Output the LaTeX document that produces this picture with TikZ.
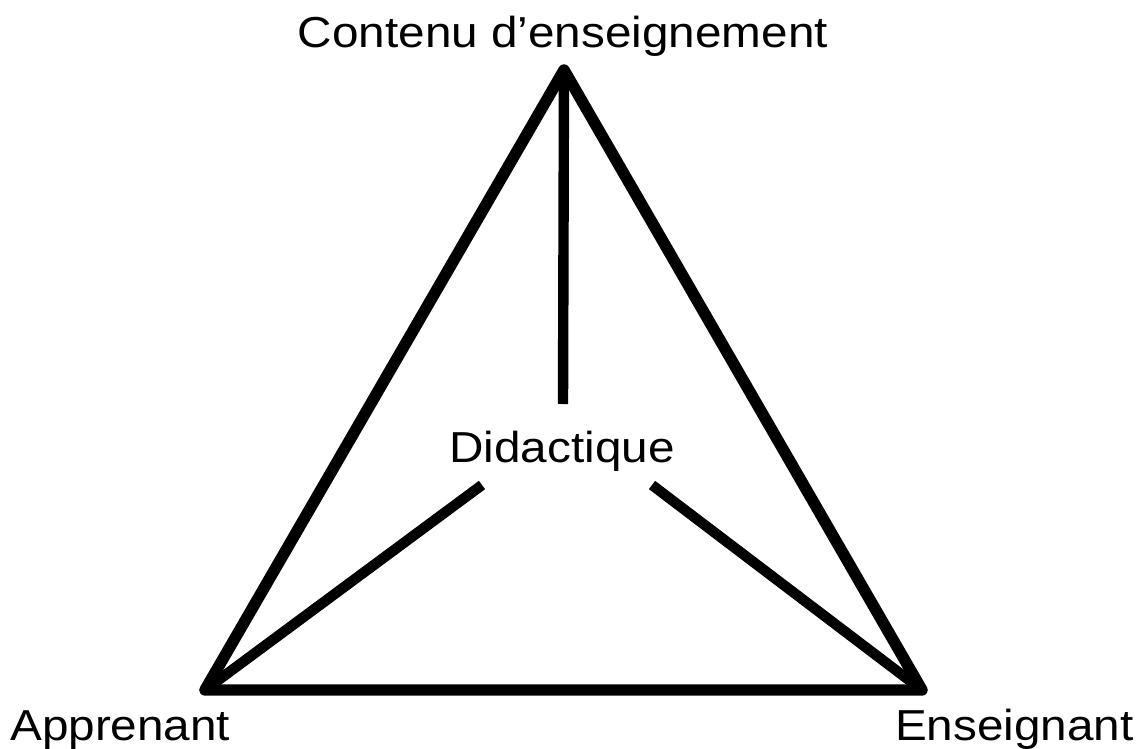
\documentclass[tikz,border=0pt]{standalone}
\usepackage{fontspec}
\setmainfont{Liberation Sans}
\usepackage{tikz}
\usetikzlibrary{calc}

\begin{document}
\begin{tikzpicture}[x=0.75pt,y=-0.75pt,
  side/.style={line width=8.6pt,line join=round},
  spoke/.style={line width=7.8pt},
  lbl/.style={inner sep=0pt,anchor=base,font=\fontsize{32.5}{38}\selectfont,xscale=1.1,transform shape}]
\useasboundingbox (0,0) rectangle (1140,749);
% sommets du triangle
\coordinate (contenu) at (564,70);
\coordinate (apprenant) at (205,690);
\coordinate (enseignant) at (922,690);
% bouts des rayons
\coordinate (dtop) at (563,404);
\coordinate (dleft) at (482,485);
\coordinate (dright) at (652,485);
\draw[side] (contenu)--(enseignant)--(apprenant)--cycle;
\draw[spoke] (contenu)--(dtop);
\draw[spoke] (apprenant)--(dleft);
\draw[spoke] (enseignant)--(dright);
\node[lbl] (tcontenu) at (563,48) {Contenu d’enseignement};
\node[lbl] (tdidac) at (562,462) {Didactique};
\node[lbl,anchor=base west] (tapp) at (10,740) {Apprenant};
\node[lbl,anchor=base east] (tens) at (1134,740) {Enseignant};
\end{tikzpicture}
\end{document}
